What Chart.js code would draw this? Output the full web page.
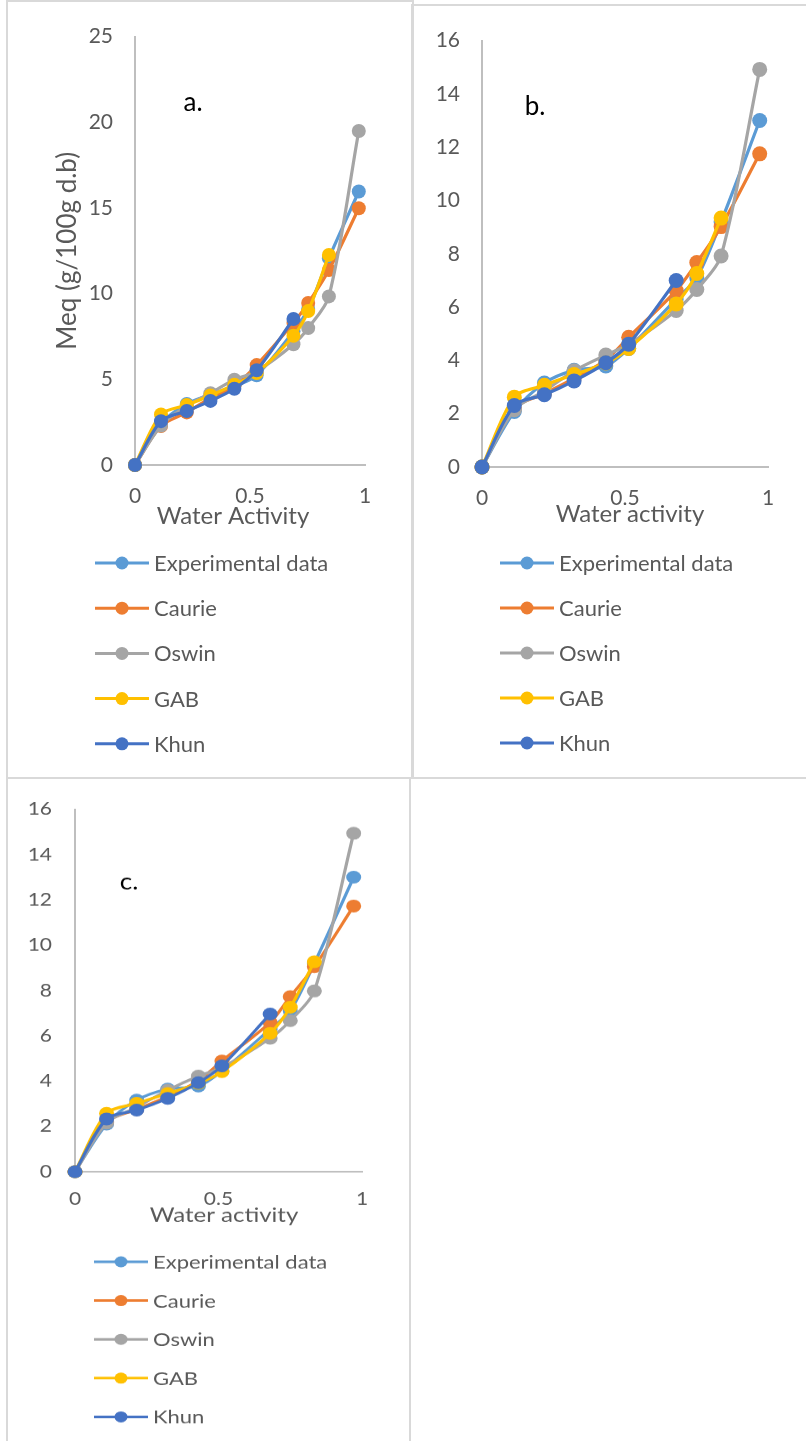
<!DOCTYPE html>
<html>
<head>
<meta charset="utf-8">
<title>Moisture sorption isotherms</title>
<script src="https://cdn.jsdelivr.net/npm/chart.js@4.4.1/dist/chart.umd.min.js"></script>
<style>
  html, body { margin: 0; padding: 0; background: #fff; }
  body { width: 806px; height: 1441px; position: relative; overflow: hidden; }
  .frame { position: absolute; border: 2px solid #d9d9d9; box-sizing: border-box; }
  canvas { position: absolute; }
</style>
</head>
<body>
<div class="frame" style="left:6px;top:0;width:408px;height:779px"></div>
<div class="frame" style="left:411px;top:4px;width:410px;height:775px"></div>
<div class="frame" style="left:6px;top:777px;width:405px;height:700px"></div>
<canvas id="panelA" width="404" height="775" style="left:8px;top:2px"></canvas>
<canvas id="panelB" width="393" height="771" style="left:413px;top:6px"></canvas>
<canvas id="panelC" width="401" height="780" style="left:8px;top:779px;transform:scaleY(0.85);transform-origin:0 0"></canvas>
<script>
// Series shared by all three panels
const seriesNames  = ['Experimental data', 'Caurie', 'Oswin', 'GAB', 'Khun'];
const seriesColors = ['#5B9BD5', '#ED7D31', '#A5A5A5', '#FFC000', '#4472C4'];

// Axis tick labels
const xTickValues  = [0, 0.5, 1];
const yTicksA      = [0, 5, 10, 15, 20, 25];
const yTicksBC     = [0, 2, 4, 6, 8, 10, 12, 14, 16];

// Panel a: water activity and equilibrium moisture (g/100g d.b)
const awA     = [0, 0.113, 0.225, 0.328, 0.432, 0.529, 0.689, 0.753, 0.843, 0.973];
const expA    = [0, 2.40, 3.56, 4.10, 4.60, 5.24, 7.80, 9.10, 12.07, 15.96];
const caurieA = [0, 2.28, 3.07, 3.90, 4.59, 5.83, 8.30, 9.45, 11.38, 14.98];
const oswinA  = [0, 2.30, 3.45, 4.19, 4.98, 5.47, 7.05, 7.99, 9.84, 19.49];
const gabA    = [0, 2.95, 3.50, 4.06, 4.69, 5.37, 7.54, 8.98, 12.26];
const khunA   = [0, 2.56, 3.15, 3.74, 4.45, 5.53, 8.52];

// Panel b
const awB     = [0, 0.113, 0.218, 0.322, 0.433, 0.513, 0.679, 0.751, 0.836, 0.971];
const expB    = [0, 2.08, 3.15, 3.63, 3.79, 4.45, 6.30, 7.10, 9.20, 13.00];
const caurieB = [0, 2.21, 2.75, 3.32, 4.01, 4.87, 6.62, 7.67, 9.02, 11.75];
const oswinB  = [0, 2.15, 2.85, 3.61, 4.20, 4.60, 5.87, 6.66, 7.92, 14.92];
const gabB    = [0, 2.62, 3.07, 3.47, 3.90, 4.45, 6.12, 7.26, 9.34];
const khunB   = [0, 2.31, 2.71, 3.23, 3.91, 4.61, 7.00];

// Panel c
const awC     = [0, 0.110, 0.215, 0.323, 0.430, 0.512, 0.680, 0.750, 0.834, 0.971];
const expC    = [0, 2.10, 3.16, 3.65, 3.78, 4.45, 6.30, 7.10, 9.20, 13.00];
const caurieC = [0, 2.20, 2.75, 3.32, 4.01, 4.89, 6.59, 7.73, 9.05, 11.73];
const oswinC  = [0, 2.15, 2.85, 3.60, 4.22, 4.60, 5.89, 6.67, 7.98, 14.94];
const gabC    = [0, 2.58, 3.02, 3.45, 3.90, 4.42, 6.11, 7.26, 9.27];
const khunC   = [0, 2.33, 2.72, 3.24, 3.93, 4.67, 6.96];

const TEXT_GREY = '#595959';
const AXIS_GREY = '#bfbfbf';
Chart.defaults.font.family = "Lato, 'Open Sans', sans-serif";

// Panel letter, x-axis caption and a one-column legend under the plot
const panelDecor = {
  id: 'panelDecor',
  afterDraw(chart, args, o) {
    const ctx = chart.ctx;
    ctx.save();
    ctx.textBaseline = 'middle';

    ctx.textAlign = 'center';
    ctx.fillStyle = '#000';
    ctx.font = "26px Lato, 'Open Sans', sans-serif";
    ctx.fillText(o.tag, o.tagX, o.tagY);

    ctx.fillStyle = TEXT_GREY;
    ctx.font = "24px Lato, 'Open Sans', sans-serif";
    ctx.fillText(o.xTitle, o.xTitleX, o.xTitleY);

    ctx.textAlign = 'left';
    ctx.font = "22px Lato, 'Open Sans', sans-serif";
    chart.data.datasets.forEach((ds, i) => {
      const y = o.legendTop + i * o.legendGap;
      ctx.strokeStyle = ds.borderColor;
      ctx.lineWidth = 3;
      ctx.beginPath();
      ctx.moveTo(o.legendX, y);
      ctx.lineTo(o.legendX + 54, y);
      ctx.stroke();
      ctx.fillStyle = ds.borderColor;
      ctx.beginPath();
      ctx.arc(o.legendX + 27, y, 6.5, 0, Math.PI * 2);
      ctx.fill();
      ctx.fillStyle = TEXT_GREY;
      ctx.fillText(ds.label, o.legendX + 59, y + 1);
    });
    ctx.restore();
  }
};

function buildPanel(id, p) {
  const datasets = p.series.map((vals, i) => ({
    label: seriesNames[i],
    data: vals.map((v, k) => ({ x: p.aw[k], y: v })),
    borderColor: seriesColors[i],
    backgroundColor: seriesColors[i],
    pointBackgroundColor: seriesColors[i],
    pointBorderColor: seriesColors[i],
    pointBorderWidth: 0,
    pointRadius: p.r,
    pointHoverRadius: p.r,
    borderWidth: 3.2,
    tension: 0.3,
    clip: false,
    order: seriesNames.length - i
  }));

  return new Chart(document.getElementById(id), {
    type: 'line',
    data: { datasets },
    options: {
      responsive: false,
      animation: false,
      devicePixelRatio: 1,
      events: [],
      layout: { padding: { left: p.padL, top: p.padT, right: p.padR, bottom: p.padB } },
      plugins: {
        legend: { display: false },
        tooltip: { enabled: false },
        panelDecor: p.decor
      },
      scales: {
        x: {
          type: 'linear', min: 0, max: 1,
          afterBuildTicks: s => { s.ticks = xTickValues.map(v => ({ value: v })); },
          afterFit: s => { s.height = p.xH; },
          grid: { display: true, drawOnChartArea: false, drawTicks: false },
          border: { display: true, color: AXIS_GREY, width: 2 },
          ticks: {
            padding: p.xPad, color: TEXT_GREY, font: { size: 21 }, maxRotation: 0, autoSkip: false,
            callback: v => String(v)
          }
        },
        y: {
          type: 'linear', min: 0, max: p.yTicks[p.yTicks.length - 1],
          afterBuildTicks: s => { s.ticks = p.yTicks.map(v => ({ value: v })); },
          afterFit: s => { s.width = p.yW; },
          grid: { display: true, drawOnChartArea: false, drawTicks: false },
          border: { display: true, color: AXIS_GREY, width: 2 },
          ticks: { padding: p.yPad, color: TEXT_GREY, font: { size: 21 }, autoSkip: false, callback: v => String(v) },
          title: p.yTitle
            ? { display: true, text: p.yTitle, color: TEXT_GREY, font: { size: 26 }, padding: 0 }
            : { display: false }
        }
      }
    },
    plugins: [panelDecor]
  });
}

function drawAll() {
  buildPanel('panelA', {
    aw: awA, series: [expA, caurieA, oswinA, gabA, khunA], yTicks: yTicksA,
    r: 7, padL: 44.4, padT: 34.5, padR: 47, padB: 247, yW: 82.6, xH: 65,
    yPad: 22, xPad: 19, yTitle: 'Meq (g/100g d.b)',
    decor: { tag: 'a.', tagX: 185, tagY: 101, xTitle: 'Water Activity', xTitleX: 225, xTitleY: 514,
             legendX: 87, legendTop: 561, legendGap: 45.2 }
  });
  buildPanel('panelB', {
    aw: awB, series: [expB, caurieB, oswinB, gabB, khunB], yTicks: yTicksBC,
    r: 7.5, padL: 0, padT: 33, padR: 38, padB: 245, yW: 69, xH: 65,
    yPad: 22, xPad: 19, yTitle: null,
    decor: { tag: 'b.', tagX: 122, tagY: 101, xTitle: 'Water activity', xTitleX: 217, xTitleY: 508,
             legendX: 87, legendTop: 557, legendGap: 45 }
  });
  buildPanel('panelC', {
    aw: awC, series: [expC, caurieC, oswinC, gabC, khunC], yTicks: yTicksBC,
    r: 7.5, padL: 0, padT: 35.6, padR: 47, padB: 253, yW: 67, xH: 65,
    yPad: 23, xPad: 20, yTitle: null,
    decor: { tag: 'c.', tagX: 121, tagY: 122, xTitle: 'Water activity', xTitleX: 216, xTitleY: 513,
             legendX: 86, legendTop: 568, legendGap: 45.6 }
  });
}

if (document.fonts && document.fonts.load) {
  Promise.all([document.fonts.load("22px Lato"), document.fonts.load("26px Lato")])
    .then(drawAll, drawAll);
} else {
  drawAll();
}
</script>
</body>
</html>
